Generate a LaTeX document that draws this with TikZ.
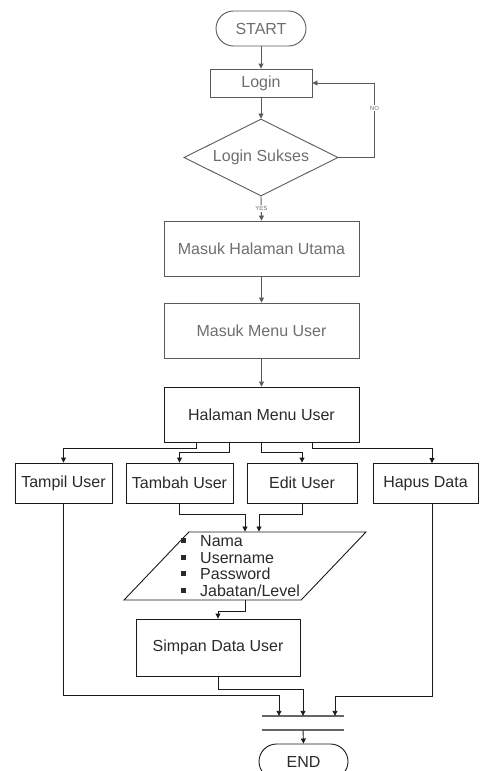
\documentclass[tikz,border=0pt]{standalone}
\usepackage{fontspec}
\setmainfont{Liberation Sans}
\usetikzlibrary{arrows.meta,shapes.geometric}

\definecolor{lineup}{HTML}{5A5A5A}
\definecolor{textup}{HTML}{6E6E6E}
\definecolor{linedown}{HTML}{1A1A1A}
\definecolor{textdown}{HTML}{2A2A2A}

\tikzset{
  base/.style={font=\fontsize{16}{19}\selectfont, inner sep=0pt, line width=0.9pt},
  upbox/.style={base, draw=lineup, text=textup, rectangle},
  downbox/.style={base, draw=linedown, text=textdown, rectangle},
  terminal/.style={rounded corners=17.5pt, minimum width=90pt, minimum height=35pt},
  decision/.style={base, draw=lineup, text=textup, diamond, aspect=2,
                   minimum width=154pt, minimum height=77pt},
  inputbox/.style={base, inner sep=2pt, draw=linedown, trapezium, trapezium stretches=true,
                   trapezium left angle=60, trapezium right angle=120,
                   minimum width=242pt, minimum height=68pt},
  uparr/.style={draw=lineup, line width=0.9pt, -{Triangle[length=5pt,width=5pt]}},
  downarr/.style={draw=linedown, line width=0.9pt, -{Triangle[length=5pt,width=5pt]}},
  tag/.style={font=\fontsize{6}{7}\selectfont, text=textup, fill=white, inner sep=1pt},
  bullet/.style={font=\fontsize{16}{16.7}\selectfont, text=textdown, align=left, inner sep=0pt},
}
\newcommand{\sqbul}{\rule[3.5pt]{5pt}{5pt}\hspace{14pt}}

\begin{document}
\begin{tikzpicture}[x=1pt, y=-1pt]
  \useasboundingbox (0,0) rectangle (480,771);

  % upper part of the flow
  \node[upbox, terminal] (start) at (261,28.5) {START};
  \node[upbox, minimum width=102pt, minimum height=28pt] (login) at (261,83) {Login};
  \node[decision] (cek) at (261,157.5) {Login Sukses};
  \node[upbox, minimum width=195pt, minimum height=55pt] (utama) at (261.5,248.5) {Masuk Halaman Utama};
  \node[upbox, minimum width=195pt, minimum height=55pt] (menu) at (261.5,330.5) {Masuk Menu User};

  % menu and its four actions
  \node[downbox, minimum width=195pt, minimum height=55pt] (halmenu) at (261.5,414.5) {Halaman Menu User};
  \node[downbox, minimum width=97pt, minimum height=40pt] (tampil) at (63.5,483) {Tampil User};
  \node[downbox, minimum width=107pt, minimum height=40pt] (tambah) at (179.5,483) {Tambah User};
  \node[downbox, minimum width=110pt, minimum height=40pt] (edit) at (302,483) {Edit User};
  \node[downbox, minimum width=105pt, minimum height=40pt] (hapus) at (425.5,483.5) {Hapus Data};

  % input data and saving
  \node[inputbox] (input) at (245,566) {};
  \node[bullet, anchor=west] (fields) at (181,566)
    {\sqbul Nama\\ \sqbul Username\\ \sqbul Password\\ \sqbul Jabatan/Level};
  \node[downbox, minimum width=164pt, minimum height=57pt] (simpan) at (218,647.5) {Simpan Data User};

  % join bars and end
  \node[inner sep=0pt, minimum width=82pt, minimum height=14pt] (join) at (303,723) {};
  \draw[draw=gray!80!black, line width=1.5pt] (join.north west) -- (join.north east);
  \draw[draw=gray!80!black, line width=1.5pt] (join.south west) -- (join.south east);
  \node[downbox, terminal, minimum width=89pt] (end) at (303.5,761.5) {END};

  % connectors, upper part
  \draw[uparr] (start) -- (login);
  \draw[uparr] (login) -- (cek);
  \draw[uparr] (cek.east) -- ++(36,0) |- (login.east)
    node[tag, pos=0.33] {NO};
  \draw[uparr] (cek.south) -- (utama.north)
    node[tag, pos=0.5] {YES};
  \draw[uparr] (utama) -- (menu);
  \draw[uparr] (menu) -- (halmenu);

  % branches from the menu
  \draw[downarr] ([xshift=-65.5pt]halmenu.south) -- ++(0,6) -| (tampil.north);
  \draw[downarr] ([xshift=-32.5pt]halmenu.south) -- ++(0,10) -| (tambah.north);
  \draw[downarr] ([xshift=-0.5pt]halmenu.south) -- ++(0,10) -| (edit.north);
  \draw[downarr] ([xshift=50.5pt]halmenu.south) -- ++(0,6) -| ([xshift=6.5pt]hapus.north);

  % into the input and on to saving
  \draw[downarr] (tambah.south) -- ++(0,11) -| (input.north);
  \draw[downarr] (edit.south) -- ++(0,11) -| ([xshift=14pt]input.north);
  \draw[downarr] (input.south) -- ++(0,11) -| (simpan.north);

  % merging into the join bars
  \draw[downarr] (tampil.south) |- ([xshift=-24pt,yshift=20pt]join.north) -- ([xshift=-24pt]join.north);
  \draw[downarr] (simpan.south) -- ++(0,13) -| (join.north);
  \draw[downarr] ([xshift=6.5pt]hapus.south) |- ([xshift=32pt,yshift=19pt]join.north) -- ([xshift=32pt]join.north);
  \draw[downarr] (join.south) -- (end.north);
\end{tikzpicture}
\end{document}
